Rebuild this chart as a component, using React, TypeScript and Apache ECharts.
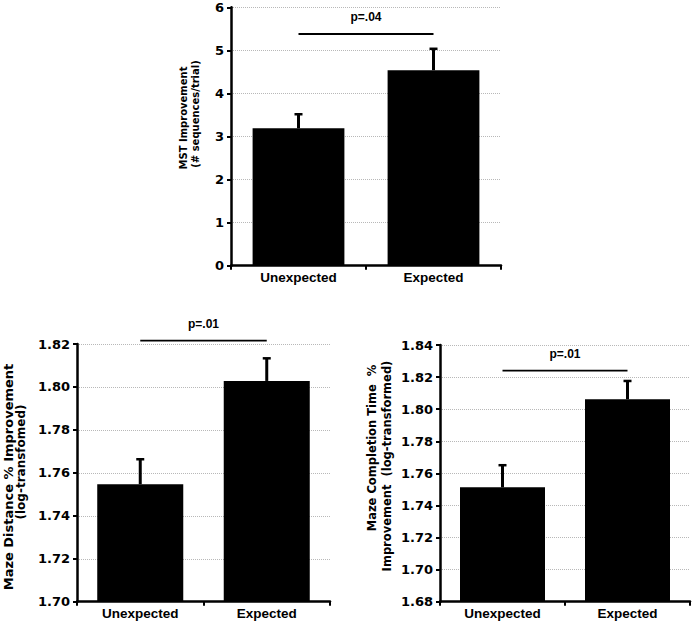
import React, { useEffect, useRef } from "react";
import * as echarts from "echarts";

const categories = ["Unexpected", "Expected"];

const mstMeans = [3.19, 4.54];
const mstErrTops = [3.54, 5.06];
const mstSigY = 5.38;
const mstSigLabel = "p=.04";
const mstAxis = [0, 6, 1];
const mstTitle = ["MST Improvement", "(# sequences/trial)"];

const distMeans = [1.7547, 1.8028];
const distErrTops = [1.7668, 1.8138];
const distSigY = 1.8216;
const distSigLabel = "p=.01";
const distAxis = [1.7, 1.82, 0.02];
const distTitle = ["Maze Distance % Improvement", "(log-transfomed)"];

const timeMeans = [1.7513, 1.8062];
const timeErrTops = [1.7657, 1.8182];
const timeSigY = 1.824;
const timeSigLabel = "p=.01";
const timeAxis = [1.68, 1.84, 0.02];
const timeTitle = ["Maze Completion Time  %", "Improvement  (log-transformed)"];

const panels = [
  { means: mstMeans, errs: mstErrTops, sigY: mstSigY, sig: mstSigLabel, axis: mstAxis, decimals: 0,
    grid: { left: 231, top: 7.3, width: 270, height: 258.4 } },
  { means: distMeans, errs: distErrTops, sigY: distSigY, sig: distSigLabel, axis: distAxis, decimals: 2,
    grid: { left: 77, top: 344, width: 253, height: 257.7 } },
  { means: timeMeans, errs: timeErrTops, sigY: timeSigY, sig: timeSigLabel, axis: timeAxis, decimals: 2,
    grid: { left: 440, top: 345, width: 250, height: 256.7 } },
];

const titleLayout = [
  { titles: mstTitle, pos: [[183, 118], [195, 114]], sizes: [10, 10] },
  { titles: distTitle, pos: [[8.5, 477], [21, 462]], sizes: [13, 12] },
  { titles: timeTitle, pos: [[372, 448], [387, 466]], sizes: [11.5, 11.5] },
];

export default function App() {
  const ref = useRef<HTMLDivElement>(null);
  useEffect(() => {
    if (!ref.current) return;
    const chart = echarts.init(ref.current, null, { renderer: "svg" });
    const grid: any[] = [];
    const xAxis: any[] = [];
    const yAxis: any[] = [];
    const series: any[] = [];
    panels.forEach((p, i) => {
      grid.push({ ...p.grid, containLabel: false });
      xAxis.push({
        type: "category",
        gridIndex: i,
        data: categories,
        axisLine: { lineStyle: { color: "#000", width: 2.5 } },
        axisTick: { show: true, length: 4, lineStyle: { color: "#000", width: 2 } },
        axisLabel: {
          color: "#000",
          fontWeight: "bold",
          fontSize: 13.5,
          fontFamily: "Liberation Sans",
          margin: 5,
        },
        splitLine: { show: false },
      });
      yAxis.push({
        type: "value",
        gridIndex: i,
        min: p.axis[0],
        max: p.axis[1],
        interval: p.axis[2],
        axisLine: { show: true, lineStyle: { color: "#000", width: 2.5 } },
        axisTick: { show: true, length: 4, lineStyle: { color: "#000", width: 2 } },
        axisLabel: {
          color: "#000",
          fontWeight: "bold",
          fontSize: 13,
          fontFamily: "DejaVu Sans",
          margin: 7,
          formatter: (v: number) => v.toFixed(p.decimals),
        },
        splitLine: { show: true, lineStyle: { color: "#b8b8b8", type: "dotted", width: 1 } },
      });
      series.push({
        type: "bar",
        xAxisIndex: i,
        yAxisIndex: i,
        data: p.means,
        barWidth: "68%",
        itemStyle: { color: "#000" },
        silent: true,
      });
      series.push({
        type: "custom",
        xAxisIndex: i,
        yAxisIndex: i,
        encode: { x: 0, y: 1 },
        data: p.means.map((m, k) => [k, m, p.errs[k]]),
        renderItem: (params: any, api: any) => {
          const x = api.value(0);
          const p0 = api.coord([x, api.value(1)]);
          const p1 = api.coord([x, api.value(2)]);
          return {
            type: "group",
            children: [
              { type: "line", shape: { x1: p0[0], y1: p0[1], x2: p1[0], y2: p1[1] + 1 }, style: { stroke: "#000", lineWidth: 3 } },
              { type: "line", shape: { x1: p1[0] - 4, y1: p1[1] + 1, x2: p1[0] + 4, y2: p1[1] + 1 }, style: { stroke: "#000", lineWidth: 2.5 } },
            ],
          };
        },
        silent: true,
        z: 3,
      });
      series.push({
        type: "custom",
        xAxisIndex: i,
        yAxisIndex: i,
        encode: { x: 0, y: 2 },
        clip: false,
        data: [[0, 1, p.sigY]],
        renderItem: (params: any, api: any) => {
          const a = api.coord([api.value(0), api.value(2)]);
          const b = api.coord([api.value(1), api.value(2)]);
          return {
            type: "group",
            children: [
              { type: "line", shape: { x1: a[0], y1: a[1], x2: b[0], y2: b[1] }, style: { stroke: "#000", lineWidth: 1.8 } },
              {
                type: "text",
                x: (a[0] + b[0]) / 2,
                y: a[1] - 17,
                style: {
                  text: p.sig,
                  fill: "#000",
                  font: 'bold 12px "Liberation Sans"',
                  align: "center",
                  verticalAlign: "middle",
                  textAlign: "center",
                  textVerticalAlign: "middle",
                },
              },
            ],
          };
        },
        silent: true,
        z: 3,
      });
    });
    const graphic: any[] = [];
    titleLayout.forEach((t) => {
      t.titles.forEach((txt, k) => {
        graphic.push({
          type: "text",
          x: t.pos[k][0],
          y: t.pos[k][1],
          rotation: Math.PI / 2,
          style: {
            text: txt,
            fill: "#000",
            font: `bold ${t.sizes[k]}px "DejaVu Sans"`,
            align: "center",
            verticalAlign: "middle",
            textAlign: "center",
            textVerticalAlign: "middle",
          },
        });
      });
    });
    chart.setOption({
      animation: false,
      backgroundColor: "#fff",
      grid,
      xAxis,
      yAxis,
      series,
      graphic,
    });
    return () => chart.dispose();
  }, []);
  return <div ref={ref} style={{ position: "absolute", left: 0, top: 0, width: 694, height: 624 }} />;
}
